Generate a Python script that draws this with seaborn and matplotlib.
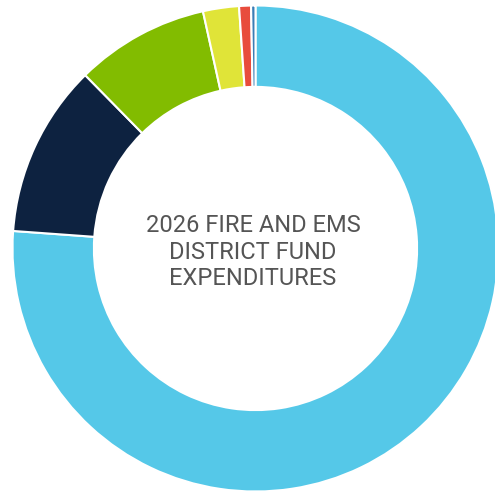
import matplotlib
matplotlib.use("Agg")
import matplotlib.pyplot as plt
import seaborn as sns

# Share of 2026 fund expenditures (percent), clockwise from 12 o'clock
categories = ["Personnel", "Operations", "Capital Outlay", "Debt Service", "Transfers", "Contingency"]
shares = [76.15, 11.49, 8.89, 2.39, 0.79, 0.29]
colors = ["#55C8E8", "#0D2240", "#82BC00", "#E0E438", "#E84C3C", "#3B7DB5"]
title_lines = ["2026 FIRE AND EMS", "DISTRICT FUND", "EXPENDITURES"]

sns.set_theme(style="white")
plt.rcParams["font.family"] = ["Roboto", "DejaVu Sans"]
palette = sns.color_palette(colors)

W, H, DPI = 495, 493, 100
fig = plt.figure(figsize=(W / DPI, H / DPI), dpi=DPI)
fig.patch.set_facecolor("white")

# Donut centre and outer radius in pixels
cx, cy, R = 255.5, 248.5, 243.0
ax = fig.add_axes([(cx - R) / W, (H - cy - R) / H, 2 * R / W, 2 * R / H])

ax.pie(
    shares,
    colors=palette,
    startangle=90,
    counterclock=False,
    radius=1.0,
    wedgeprops=dict(width=0.335, edgecolor="white", linewidth=1.5),
)
ax.set_xlim(-1, 1)
ax.set_ylim(-1, 1)
ax.set_axis_off()

ax.text(-0.01, -0.015, "\n".join(title_lines), ha="center", va="center",
        fontsize=17, color="#555555", linespacing=1.18)

fig.savefig("out.png", dpi=DPI, facecolor="white")
